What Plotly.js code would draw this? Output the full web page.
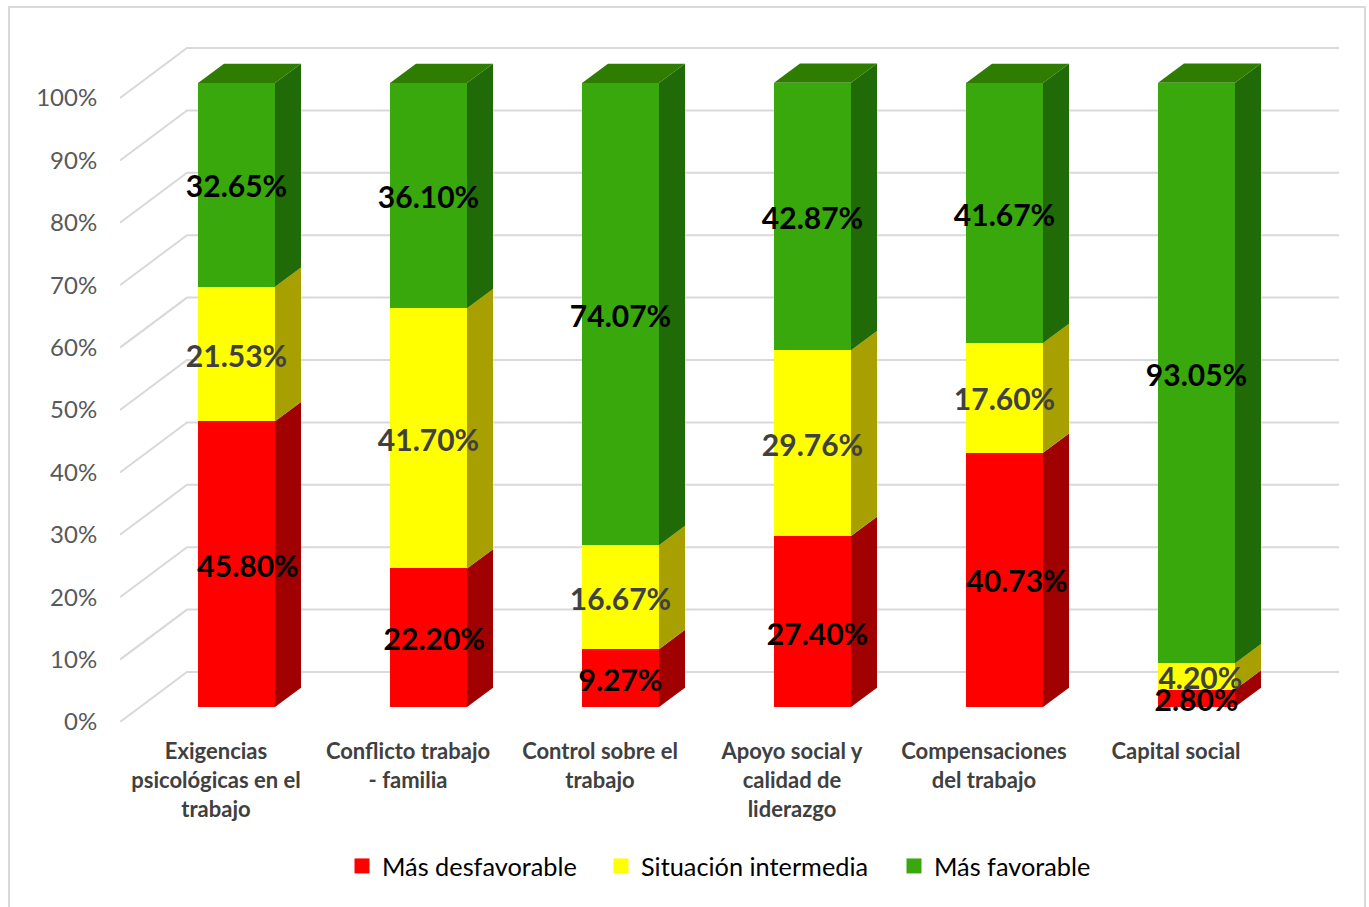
<!DOCTYPE html>
<html><head><meta charset="utf-8">
<script src="https://cdn.plot.ly/plotly-3.0.1.min.js"></script>
<style>html,body{margin:0;padding:0;background:#fff}#c{width:1369px;height:907px}</style>
</head><body><div id="c"></div>
<script>
const categories=["Exigencias<br>psicológicas en el<br>trabajo","Conflicto trabajo<br>- familia","Control sobre el<br>trabajo","Apoyo social y<br>calidad de<br>liderazgo","Compensaciones<br>del trabajo","Capital social"];
const masDesfavorable=[45.80,22.20,9.27,27.40,40.73,2.80];
const situacionIntermedia=[21.53,41.70,16.67,29.76,17.60,4.20];
const masFavorable=[32.65,36.10,74.07,42.87,41.67,93.05];
const seriesNames=["Más desfavorable","Situación intermedia","Más favorable"];
const frontColors=["#ff0000","#ffff00","#38a80c"];
const sideColors=["#a00000","#a8a000","#206a07"];
const topColor="#2e7d00";
const labelColors=["#000000","#404040","#000000"];
const labelShiftX=[[0.06,0.03,0,0.026,0.065,0],[0,0,0,0,0,0.02],[0,0,0,0,0,0]];
const labelShiftY=[[0,0,0,-1.76,0,0],[0,0,0,0,0,0],[0,0,0,0,0,0]];
const yTicks=[0,10,20,30,40,50,60,70,80,90,100];

const W=1369,H=907;
const px=v=>v/W, py=v=>1-v/H;
const catIdx=categories.map((_,i)=>i);
const unitX=192, unitY=6.24;
const barW=77/unitX, dx=26/unitX, dy=19.3/unitY;
const wallDx=67/unitX, wallDy=50/unitY;
const spanX=1225/unitX, spanY=692/unitY;
const barShiftX=20.5/unitX, barShiftY=15/unitY;
const labelDropY=5/unitY;
const all=[masDesfavorable,situacionIntermedia,masFavorable];
const legendIds=['legend','legend2','legend3'];
const traces=[];

// wall gridlines on the base subplot
let gx=[],gy=[];
yTicks.forEach(v=>{gx.push(-0.5,-0.5+wallDx,5.5+wallDx,null);gy.push(v,v+wallDy,v+wallDy,null);});
traces.push({type:'scatter',mode:'lines',x:gx,y:gy,xaxis:'x',yaxis:'y',showlegend:false,hoverinfo:'skip',line:{color:'#d9d9d9',width:2}});

// front faces
all.forEach((vals,s)=>{
  traces.push({type:'bar',name:seriesNames[s],x:catIdx,y:vals,xaxis:'x2',yaxis:'y2',width:barW,showlegend:false,legendgroup:seriesNames[s],
    marker:{color:frontColors[s],line:{width:0}},hovertemplate:'%{y:.2f}%<extra>'+seriesNames[s]+'</extra>'});
});
// side faces and tops
let cum=catIdx.map(()=>0);
const bases=[];
all.forEach((vals,s)=>{
  let xs=[],ys=[];
  bases.push(cum.slice());
  vals.forEach((v,i)=>{
    const r=i+barW/2,y0=cum[i],y1=cum[i]+v;
    xs.push(r,r+dx,r+dx,r,r,null);ys.push(y0,y0+dy,y1+dy,y1,y0,null);
    cum[i]=y1;
  });
  traces.push({type:'scatter',mode:'lines',x:xs,y:ys,xaxis:'x2',yaxis:'y2',fill:'toself',fillcolor:sideColors[s],line:{width:0},showlegend:false,legendgroup:seriesNames[s],hoverinfo:'skip'});
});
let tx=[],ty=[];
cum.forEach((c,i)=>{const l=i-barW/2,r=i+barW/2;tx.push(l,l+dx,r+dx,r,l,null);ty.push(c,c+dy,c+dy,c,c,null);});
traces.push({type:'scatter',mode:'lines',x:tx,y:ty,xaxis:'x2',yaxis:'y2',fill:'toself',fillcolor:topColor,line:{width:0},showlegend:false,hoverinfo:'skip'});
// data labels
all.forEach((vals,s)=>{
  traces.push({type:'scatter',mode:'text',x:vals.map((v,i)=>i+labelShiftX[s][i]),y:vals.map((v,i)=>bases[s][i]+v/2-labelDropY+labelShiftY[s][i]),
    text:vals.map(v=>v.toFixed(2)+'%'),textposition:'middle center',cliponaxis:false,
    textfont:{family:'Lato',size:30,color:labelColors[s],weight:700},xaxis:'x2',yaxis:'y2',showlegend:false,legendgroup:seriesNames[s],hoverinfo:'skip'});
});
// legend keys
all.forEach((vals,s)=>{
  traces.push({type:'scatter',mode:'markers',name:seriesNames[s],x:[null],y:[null],xaxis:'x2',yaxis:'y2',legend:legendIds[s],legendgroup:seriesNames[s],
    marker:{symbol:'square',size:15,color:frontColors[s]},hoverinfo:'skip'});
});

const legendBase=x=>({orientation:'h',x:px(x),y:py(843),xanchor:'left',yanchor:'top',font:{family:'Lato',size:25.3,color:'#000'},bgcolor:'rgba(0,0,0,0)'});
const layout={
  width:W,height:H,margin:{l:0,r:0,t:0,b:0},paper_bgcolor:'#fff',plot_bgcolor:'rgba(0,0,0,0)',
  barmode:'stack',showlegend:true,
  xaxis:{domain:[px(120),px(1345)],range:[-0.5,-0.5+spanX],tickmode:'array',tickvals:catIdx,ticktext:categories,anchor:'y',
    showgrid:false,zeroline:false,showline:false,ticks:'outside',ticklen:10,tickcolor:'rgba(0,0,0,0)',
    tickfont:{family:'Lato',size:22,color:'#404040',weight:700}},
  yaxis:{domain:[py(722),py(30)],range:[0,spanY],tickmode:'array',tickvals:yTicks,ticktext:yTicks.map(v=>v+'%'),anchor:'x',
    showgrid:false,zeroline:false,showline:false,ticks:'outside',ticklen:17,tickcolor:'rgba(0,0,0,0)',
    tickfont:{family:'Lato',size:24,color:'#595959'}},
  xaxis2:{range:[-0.5-barShiftX,-0.5-barShiftX+spanX],overlaying:'x',anchor:'y2',visible:false},
  yaxis2:{range:[-barShiftY,-barShiftY+spanY],overlaying:'y',anchor:'x2',visible:false},
  legend:legendBase(342),legend2:legendBase(601),legend3:legendBase(894),
  shapes:[{type:'rect',xref:'paper',yref:'paper',x0:px(9),x1:px(1365),y0:-0.02,y1:py(7),line:{color:'#d9d9d9',width:2},fillcolor:'rgba(0,0,0,0)',layer:'below'}]
};
Plotly.newPlot('c',traces,layout,{displayModeBar:false});
</script></body></html>
